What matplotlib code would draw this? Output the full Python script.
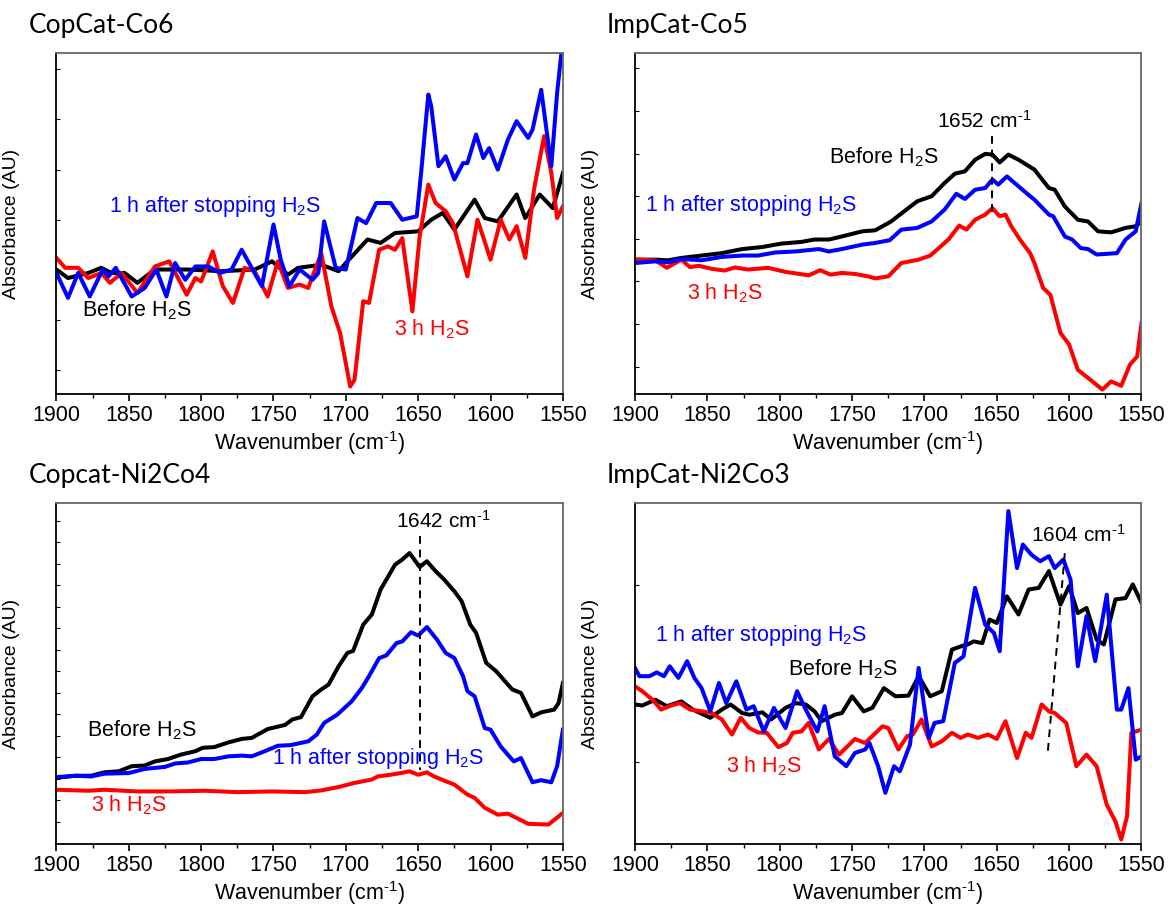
import numpy as np
import matplotlib
matplotlib.use('Agg')
import matplotlib.pyplot as plt
from matplotlib.ticker import MultipleLocator

plt.rcParams['font.family'] = ['Liberation Sans', 'DejaVu Sans']
plt.rcParams['mathtext.fontset'] = 'custom'
plt.rcParams['mathtext.rm'] = 'Liberation Sans'
plt.rcParams['mathtext.it'] = 'Liberation Sans:italic'
plt.rcParams['mathtext.bf'] = 'Liberation Sans:bold'

# ---- CopCat-Co6 ----
co6_before_wn = [1900, 1892, 1878, 1869, 1862, 1853, 1844, 1832, 1809, 1786, 1763, 1751, 1740, 1733,
                 1717, 1705, 1699, 1685, 1676, 1666, 1650, 1641, 1633, 1625, 1611, 1604, 1595, 1582,
                 1576, 1566, 1557, 1550]
co6_before_ab = [36.5, 34.0, 35.5, 37.0, 35.5, 35.5, 32.6, 36.5, 36.5, 36.0, 36.5, 38.9, 35.0, 37.0,
                 37.9, 36.0, 38.9, 45.3, 44.3, 47.2, 47.7, 51.1, 53.1, 48.2, 57.0, 51.6, 50.6, 58.5,
                 51.6, 58.5, 54.5, 64.8]
co6_after_wn = [1900, 1892, 1885, 1877, 1868, 1864, 1859, 1848, 1839, 1831, 1824, 1818, 1811, 1804,
                1795, 1787, 1779, 1772, 1758, 1750, 1745, 1739, 1732, 1723, 1719, 1715, 1707, 1700,
                1692, 1686, 1679, 1669, 1661, 1651, 1648, 1643, 1641, 1636, 1631, 1625, 1619, 1616,
                1610, 1605, 1601, 1595, 1588, 1582, 1574, 1571, 1565, 1558, 1554, 1550]
co6_after_ab = [35.5, 28.2, 35.5, 28.6, 36.5, 34.5, 37.0, 28.6, 31.1, 36.5, 28.6, 38.4, 33.5, 37.4,
                37.4, 35.5, 36.5, 42.3, 31.6, 49.7, 39.4, 31.6, 36.5, 33.5, 35.5, 50.6, 37.0, 36.5,
                51.6, 50.1, 56.0, 56.0, 51.1, 52.1, 64.8, 87.8, 84.4, 66.8, 69.7, 62.9, 67.7, 67.7,
                76.1, 69.2, 72.1, 65.8, 74.6, 80.0, 75.1, 77.5, 89.2, 66.8, 88.3, 104.0]
co6_h2s_wn = [1900, 1894, 1885, 1878, 1869, 1863, 1855, 1844, 1832, 1822, 1810, 1804, 1800, 1792,
              1785, 1778, 1770, 1763, 1754, 1747, 1740, 1732, 1726, 1717, 1710, 1704, 1697, 1694,
              1688, 1684, 1677, 1671, 1666, 1661, 1654, 1649, 1643, 1638, 1631, 1626, 1616, 1609,
              1600, 1593, 1587, 1582, 1576, 1570, 1563, 1558, 1554, 1550]
co6_h2s_ab = [39.9, 37.0, 37.0, 34.0, 35.5, 32.6, 35.5, 29.6, 37.4, 38.9, 29.1, 34.0, 33.0, 41.8,
              31.6, 26.7, 37.0, 36.0, 28.6, 38.9, 31.1, 32.1, 31.1, 41.3, 25.7, 17.9, 2.2, 4.2,
              27.2, 26.7, 42.3, 43.3, 42.3, 45.7, 24.2, 46.2, 61.4, 56.0, 53.6, 50.1, 34.5, 51.1,
              39.4, 51.1, 45.3, 49.2, 39.9, 59.9, 75.6, 64.8, 51.6, 55.0]

# ---- ImpCat-Co5 ----
co5_before_wn = [1900, 1886, 1877, 1868, 1854, 1840, 1826, 1812, 1799, 1785, 1776, 1766, 1757, 1743,
                 1734, 1723, 1713, 1705, 1695, 1686, 1679, 1672, 1665, 1658, 1653, 1648, 1642, 1635,
                 1627, 1624, 1614, 1610, 1603, 1594, 1587, 1580, 1571, 1561, 1554, 1550]
co5_before_ab = [39.4, 39.4, 39.2, 39.9, 40.6, 41.3, 42.5, 43.1, 44.1, 44.6, 45.3, 45.3, 46.2, 47.7,
                 48.0, 50.6, 53.9, 56.5, 58.0, 61.9, 64.6, 65.3, 68.7, 70.4, 70.2, 67.9, 70.2, 68.7,
                 66.6, 65.8, 60.4, 59.9, 55.0, 51.1, 50.6, 47.7, 47.4, 48.7, 49.2, 50.6]
co5_after_wn = [1900, 1886, 1877, 1868, 1854, 1840, 1826, 1815, 1803, 1789, 1773, 1766, 1757, 1743,
                1734, 1724, 1716, 1705, 1695, 1686, 1678, 1672, 1665, 1658, 1653, 1649, 1643, 1635,
                1627, 1624, 1614, 1611, 1603, 1598, 1592, 1587, 1581, 1567, 1561, 1554, 1550]
co5_after_ab = [38.4, 38.9, 38.6, 39.6, 39.2, 40.2, 40.6, 40.6, 41.5, 41.8, 42.5, 41.8, 42.5, 43.8,
                44.3, 45.1, 48.2, 48.7, 50.6, 54.1, 58.7, 57.2, 59.9, 60.4, 62.9, 61.4, 63.8, 60.9,
                58.0, 57.0, 52.6, 52.1, 46.2, 45.3, 42.8, 42.5, 40.9, 41.3, 45.3, 47.7, 56.0]
co5_h2s_wn = [1900, 1886, 1878, 1868, 1862, 1856, 1847, 1838, 1831, 1822, 1808, 1796, 1780, 1772,
              1765, 1757, 1748, 1739, 1734, 1725, 1716, 1704, 1696, 1690, 1683, 1676, 1671, 1665,
              1658, 1653, 1648, 1644, 1640, 1634, 1627, 1624, 1618, 1613, 1606, 1600, 1594, 1584,
              1577, 1571, 1564, 1558, 1553, 1550]
co5_h2s_ab = [39.4, 39.2, 37.0, 39.4, 37.2, 37.6, 36.7, 36.2, 37.1, 36.5, 37.0, 35.8, 34.8, 36.3,
              35.0, 35.5, 35.2, 34.5, 33.9, 34.5, 38.4, 39.4, 40.6, 42.8, 45.5, 49.4, 48.2, 51.1,
              52.6, 54.5, 52.1, 52.6, 49.2, 45.3, 41.3, 38.4, 31.1, 29.1, 17.9, 14.5, 7.1, 3.7,
              1.3, 3.7, 2.4, 8.6, 11.0, 20.8]

# ---- Copcat-Ni2Co4 ----
ni2co4_before_wn = [1900, 1887, 1876, 1867, 1857, 1848, 1839, 1832, 1823, 1814, 1804, 1799, 1791, 1781,
                    1772, 1765, 1754, 1742, 1737, 1731, 1723, 1717, 1712, 1705, 1699, 1695, 1688, 1682,
                    1676, 1666, 1661, 1656, 1651, 1649, 1644, 1638, 1632, 1625, 1620, 1614, 1610, 1603,
                    1596, 1590, 1585, 1579, 1571, 1565, 1556, 1553, 1550]
ni2co4_before_ab = [19.4, 20.0, 20.0, 21.0, 21.3, 22.8, 23.0, 24.2, 24.9, 26.2, 27.2, 28.2, 28.4, 29.8,
                    30.8, 31.1, 33.7, 34.9, 36.5, 37.2, 43.3, 45.3, 46.7, 52.1, 56.0, 56.6, 64.3, 67.3,
                    74.6, 81.9, 83.4, 85.3, 82.4, 81.2, 82.9, 80.0, 77.5, 74.1, 71.2, 64.3, 61.9, 53.1,
                    50.6, 47.7, 45.3, 44.3, 37.4, 38.6, 39.4, 41.3, 47.2]
ni2co4_after_wn = [1900, 1887, 1876, 1867, 1850, 1839, 1825, 1818, 1809, 1800, 1791, 1781, 1772, 1765,
                   1756, 1747, 1738, 1726, 1720, 1715, 1706, 1696, 1689, 1684, 1677, 1672, 1665, 1661,
                   1655, 1650, 1644, 1637, 1631, 1625, 1619, 1616, 1611, 1604, 1600, 1593, 1584, 1579,
                   1571, 1565, 1558, 1554, 1550]
ni2co4_after_ab = [19.6, 20.0, 19.8, 20.6, 20.8, 22.0, 22.6, 23.6, 23.9, 24.9, 24.9, 25.7, 25.9, 25.7,
                   27.2, 28.8, 29.0, 30.1, 32.1, 35.5, 37.9, 41.8, 45.7, 49.2, 54.5, 55.3, 58.9, 59.4,
                   62.1, 61.1, 63.6, 59.9, 56.0, 54.5, 49.2, 44.8, 43.3, 34.0, 33.5, 28.6, 24.2, 25.2,
                   18.1, 18.7, 18.1, 22.8, 33.5]
ni2co4_h2s_wn = [1900, 1878, 1867, 1844, 1821, 1798, 1775, 1751, 1728, 1717, 1705, 1694, 1682, 1678,
                 1669, 1662, 1656, 1650, 1644, 1639, 1631, 1625, 1616, 1611, 1604, 1595, 1588, 1574,
                 1560, 1550]
ni2co4_h2s_ab = [15.9, 15.6, 15.9, 15.4, 15.4, 15.6, 15.2, 15.4, 15.2, 15.7, 16.7, 17.9, 18.9, 19.8,
                 20.3, 20.8, 21.3, 20.3, 21.0, 19.8, 18.4, 17.4, 14.5, 13.5, 10.6, 8.6, 8.9, 5.9,
                 5.7, 9.1]

# ---- ImpCat-Ni2Co3 ----
ni2co3_before_wn = [1900, 1895, 1886, 1878, 1868, 1860, 1848, 1840, 1834, 1826, 1821, 1812, 1806, 1796,
                    1789, 1782, 1776, 1771, 1762, 1757, 1750, 1742, 1736, 1728, 1720, 1711, 1704, 1696,
                    1688, 1681, 1673, 1670, 1666, 1660, 1655, 1650, 1643, 1635, 1628, 1621, 1614, 1606,
                    1600, 1594, 1588, 1581, 1576, 1568, 1561, 1556, 1550]
ni2co3_before_ab = [40.9, 40.6, 42.3, 40.4, 41.8, 39.4, 37.0, 39.4, 40.9, 38.4, 37.9, 38.6, 36.5, 39.9,
                    41.3, 40.9, 38.9, 36.0, 37.9, 38.4, 43.3, 38.9, 39.9, 45.7, 43.3, 43.5, 49.2, 43.3,
                    44.8, 57.0, 58.2, 58.5, 59.4, 58.9, 65.8, 64.8, 72.6, 67.3, 74.6, 75.1, 80.0, 70.2,
                    75.6, 67.7, 69.2, 59.9, 58.5, 71.7, 72.1, 76.1, 70.7]
ni2co3_after_wn = [1900, 1897, 1890, 1885, 1880, 1876, 1870, 1864, 1859, 1854, 1848, 1842, 1837, 1830,
                   1823, 1818, 1811, 1804, 1796, 1788, 1782, 1774, 1769, 1762, 1754, 1748, 1741, 1738,
                   1732, 1727, 1721, 1717, 1710, 1704, 1697, 1693, 1687, 1679, 1673, 1665, 1658, 1652,
                   1648, 1642, 1636, 1632, 1626, 1620, 1614, 1610, 1604, 1599, 1594, 1588, 1582, 1574,
                   1567, 1564, 1559, 1554, 1550]
ni2co3_after_ab = [51.6, 49.2, 49.2, 50.3, 49.2, 52.1, 48.7, 53.6, 48.7, 45.7, 38.9, 47.2, 41.3, 47.7,
                   39.4, 40.4, 33.0, 39.9, 34.0, 44.8, 39.4, 33.0, 40.4, 25.7, 22.8, 26.7, 27.7, 29.6,
                   22.8, 15.0, 22.8, 21.3, 29.1, 51.6, 31.1, 35.5, 36.0, 53.1, 55.0, 75.1, 64.3, 61.9,
                   56.5, 97.6, 80.9, 87.8, 84.8, 82.9, 84.4, 80.9, 83.4, 77.5, 52.1, 66.8, 53.6, 73.1,
                   39.4, 39.4, 45.7, 24.7, 25.7]
ni2co3_h2s_wn = [1900, 1895, 1888, 1882, 1875, 1869, 1862, 1854, 1847, 1840, 1833, 1827, 1821, 1815,
                 1809, 1801, 1795, 1791, 1785, 1780, 1773, 1766, 1759, 1748, 1741, 1729, 1725, 1718,
                 1712, 1708, 1702, 1695, 1688, 1681, 1675, 1670, 1663, 1656, 1650, 1644, 1636, 1630,
                 1626, 1619, 1614, 1610, 1602, 1595, 1588, 1581, 1574, 1568, 1564, 1560, 1557, 1550]
ni2co3_h2s_ab = [46.2, 44.8, 42.3, 39.4, 40.6, 41.3, 39.4, 38.9, 38.4, 36.5, 32.1, 37.0, 34.0, 32.7,
                 32.6, 28.4, 29.6, 32.6, 33.0, 35.5, 27.7, 30.8, 26.2, 30.8, 29.6, 34.5, 34.0, 27.7,
                 31.6, 32.1, 36.5, 28.6, 30.1, 32.6, 31.1, 32.1, 31.1, 32.1, 30.8, 36.0, 25.2, 32.6,
                 31.1, 40.9, 38.9, 38.4, 35.5, 22.8, 26.2, 22.8, 11.5, 6.6, 1.3, 8.1, 32.6, 33.5]

titles = ['CopCat-Co6', 'ImpCat-Co5', 'Copcat-Ni2Co4', 'ImpCat-Ni2Co3']
h2s = r'H$_2$S'
lbl_before = 'Before ' + h2s
lbl_after = '1 h after stopping ' + h2s
lbl_h2s = '3 h ' + h2s
inv_cm = r'cm$^{\text{-1}}$'

panels = [
    dict(series=[(co6_before_wn, co6_before_ab, 'black'), (co6_h2s_wn, co6_h2s_ab, 'red'),
                 (co6_after_wn, co6_after_ab, 'blue')],
         labels=[(1864, 55, lbl_after, 'blue'), (1882, 24.5, lbl_before, 'black'), (1667, 19, lbl_h2s, 'red')],
         peak=None, ytick=(7, 14.7)),
    dict(series=[(co5_before_wn, co5_before_ab, 'black'), (co5_h2s_wn, co5_h2s_ab, 'red'),
                 (co5_after_wn, co5_after_ab, 'blue')],
         labels=[(1766, 69.5, lbl_before, 'black'), (1893, 55.3, lbl_after, 'blue'), (1864, 29.6, lbl_h2s, 'red')],
         peak=('1652 ' + inv_cm, 1659, 80, (1653, 1653), (75.6, 53)), ytick=(8, 12.5)),
    dict(series=[(ni2co4_before_wn, ni2co4_before_ab, 'black'), (ni2co4_h2s_wn, ni2co4_h2s_ab, 'red'),
                 (ni2co4_after_wn, ni2co4_after_ab, 'blue')],
         labels=[(1879, 33.5, lbl_before, 'black'), (1751, 25.2, lbl_after, 'blue'), (1876, 11.5, lbl_h2s, 'red')],
         peak=('1642 ' + inv_cm, 1633, 94.6, (1649, 1649), (90.2, 21.8)), ytick=(6.5, 6.3)),
    dict(series=[(ni2co3_before_wn, ni2co3_before_ab, 'black'), (ni2co3_h2s_wn, ni2co3_h2s_ab, 'red'),
                 (ni2co3_after_wn, ni2co3_after_ab, 'blue')],
         labels=[(1886, 61, lbl_after, 'blue'), (1794, 51.1, lbl_before, 'black'), (1837, 22.8, lbl_h2s, 'red')],
         peak=('1604 ' + inv_cm, 1594, 90.7, (1603, 1615), (85.3, 25.7)), ytick=(24, 52)),
]

fig = plt.figure(figsize=(11.71, 9.07), dpi=100)

lefts = [0.0482, 0.5423, 0.0482, 0.5423]
bottoms = [0.5656, 0.5656, 0.0695, 0.0695]
title_y = [0.9636, 0.9636, 0.4675, 0.4675]

for i, p in enumerate(panels):
    ax = fig.add_axes([lefts[i], bottoms[i], 0.4325, 0.376])
    for wn, ab, c in p['series']:
        ax.plot(wn, ab, color=c, lw=2.9, solid_joinstyle='round')
    for x, y, s, c in p['labels']:
        ax.text(x, y, s, color=c, fontsize=15.5, ha='left', va='center')
    if p['peak']:
        s, tx, ty, lx, ly = p['peak']
        ax.plot(lx, ly, color='black', lw=1.4, ls=(0, (4, 3)))
        ax.text(tx, ty, s, fontsize=15, ha='center', va='center')

    ax.set_xlim(1900, 1550)
    ax.set_ylim(0, 100)
    ax.xaxis.set_major_locator(MultipleLocator(50))
    ax.xaxis.set_minor_locator(MultipleLocator(25))
    start, step = p['ytick']
    ax.set_yticks(np.arange(start, 100, step))
    ax.tick_params(axis='x', which='major', direction='out', length=5, width=1.2, labelsize=15.5, pad=3)
    ax.tick_params(axis='x', which='minor', direction='out', length=3, width=1.0)
    ax.tick_params(axis='y', direction='in', length=3, width=0.8, labelleft=False)
    ax.spines['left'].set_color('black')
    ax.spines['bottom'].set_color('black')
    ax.spines['left'].set_linewidth(1.3)
    ax.spines['bottom'].set_linewidth(1.3)
    for sp in ['top', 'right']:
        ax.spines[sp].set_color('#666666')
        ax.spines[sp].set_linewidth(1.3)
    ax.set_xlabel('Wavenumber (' + inv_cm + ')', fontsize=15.5, labelpad=2)
    ax.set_ylabel('Absorbance (AU)', fontsize=14)
    ax.yaxis.set_label_coords(-0.071, 0.5)

    fig.text(lefts[i] - 0.024, title_y[i], titles[i], fontsize=19, family='Lato', va='baseline')

fig.savefig('out.png', dpi=100)
